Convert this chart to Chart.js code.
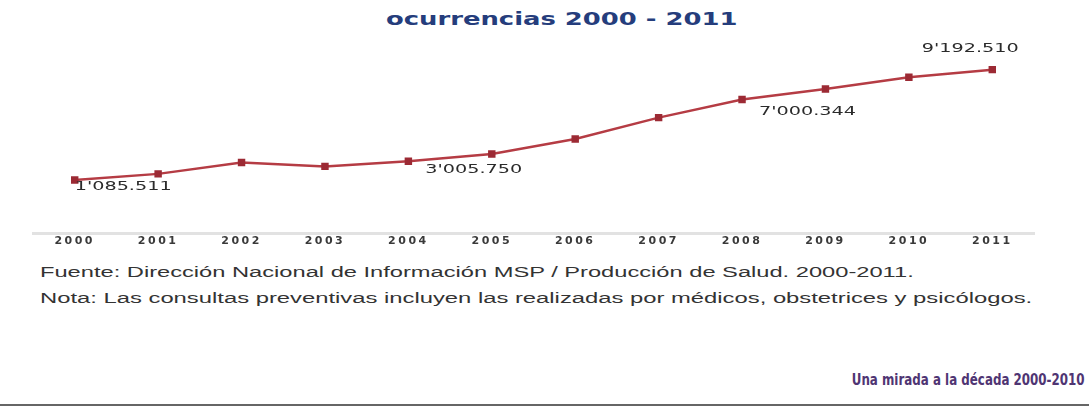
<!DOCTYPE html>
<html lang="es">
<head>
<meta charset="utf-8">
<script src="https://cdn.jsdelivr.net/npm/chart.js@4.4.0/dist/chart.umd.min.js"></script>
<style>
  html, body { margin: 0; padding: 0; background: #fff; }
  body { width: 1089px; height: 409px; position: relative; overflow: hidden; }
  .txt { position: absolute; white-space: nowrap; transform-origin: 0 50%; }
  #titulo { left: 386px; top: 9px; font: bold 17px "DejaVu Sans"; color: #253d7c; transform: scaleX(1.52); }
  #chartBox { position: absolute; left: 0; top: 30px; width: 1089px; height: 225px; }
  #fuente { left: 40px; top: 264px; font: 14px "Liberation Sans"; color: #333; transform: scaleX(1.69); }
  #nota { left: 40px; top: 290px; font: 14px "Liberation Sans"; color: #333; transform: scaleX(1.7); }
  #lema { right: 4px; top: 371px; font: bold 15px "DejaVu Sans Condensed", "DejaVu Sans"; color: #4f3573; transform-origin: 100% 50%; transform: scaleX(0.88); }
  #pie { position: absolute; left: 0; top: 404px; width: 1089px; height: 2px; background: #666; }
</style>
</head>
<body>
<div class="txt" id="titulo">ocurrencias 2000 - 2011</div>
<div id="chartBox"><canvas id="lineChart"></canvas></div>
<div class="txt" id="fuente">Fuente: Dirección Nacional de Información MSP / Producción de Salud. 2000-2011.</div>
<div class="txt" id="nota">Nota: Las consultas preventivas incluyen las realizadas por médicos, obstetrices y psicólogos.</div>
<div class="txt" id="lema">Una mirada a la década 2000-2010</div>
<div id="pie"></div>

<script>
var anios = ['2000', '2001', '2002', '2003', '2004', '2005', '2006', '2007', '2008', '2009', '2010', '2011'];
var ocurrencias = [1085511, 1540000, 2370000, 2090000, 2460000, 3005750, 4100000, 5670000, 7000344, 7770000, 8640000, 9192510];
// years whose value is written next to the point
var conEtiqueta = [0, 5, 8, 11];

// 7000344 -> 7'000.344
function formato(v) {
    var mill = Math.floor(v / 1e6);
    var resto = v % 1e6;
    return mill + "'" + String(Math.floor(resto / 1000)).padStart(3, '0') + '.' + String(resto % 1000).padStart(3, '0');
}

var ubicacion = {
    0:  {dx: 0,   dy: 7,   align: 'left'},
    5:  {dx: -18, dy: 16,  align: 'center'},
    8:  {dx: 17,  dy: 12,  align: 'left'},
    11: {dx: -22, dy: -21, align: 'center'}
};

var espaciado = {
    id: 'espaciado',
    beforeDraw: function(chart) { chart.ctx.letterSpacing = '2.5px'; }
};

var etiquetas = {
    id: 'etiquetas',
    afterDatasetsDraw: function(chart) {
        var ctx = chart.ctx;
        var pts = chart.getDatasetMeta(0).data;
        ctx.save();
        ctx.letterSpacing = '0px';
        ctx.font = '12px "DejaVu Sans"';
        ctx.fillStyle = '#2b2b2b';
        ctx.textBaseline = 'middle';
        for (var i = 0; i < conEtiqueta.length; i++) {
            var k = conEtiqueta[i];
            var u = ubicacion[k];
            ctx.save();
            ctx.translate(pts[k].x + u.dx, pts[k].y + u.dy);
            ctx.scale(1.6, 1);
            ctx.textAlign = u.align;
            ctx.fillText(formato(ocurrencias[k]), 0, 0);
            ctx.restore();
        }
        ctx.restore();
    }
};

var ctx = document.getElementById('lineChart').getContext('2d');
new Chart(ctx, {
    type: 'line',
    data: {
        labels: anios,
        datasets: [{
            data: ocurrencias,
            borderColor: '#b53c44',
            borderWidth: 2.5,
            tension: 0,
            pointStyle: 'rect',
            pointRadius: 3.5,
            pointBackgroundColor: '#9c2a34',
            pointBorderColor: '#9c2a34'
        }]
    },
    options: {
        responsive: true,
        maintainAspectRatio: false,
        animation: false,
        layout: { padding: { left: 33, right: 55, top: 30, bottom: 0 } },
        plugins: { legend: { display: false }, tooltip: { enabled: false } },
        scales: {
            x: {
                offset: true,
                grid: { display: false, drawTicks: false },
                border: { color: '#e2e2e2', width: 3 },
                ticks: {
                    color: '#3a3a3a',
                    padding: 2,
                    maxRotation: 0,
                    autoSkip: false,
                    font: { family: 'DejaVu Sans', size: 11, weight: 'bold' }
                },
                afterFit: function(s) { s.height = 22; }
            },
            y: { display: false, min: -2800000, max: 9900000 }
        }
    },
    plugins: [espaciado, etiquetas]
});
</script>
</body>
</html>
